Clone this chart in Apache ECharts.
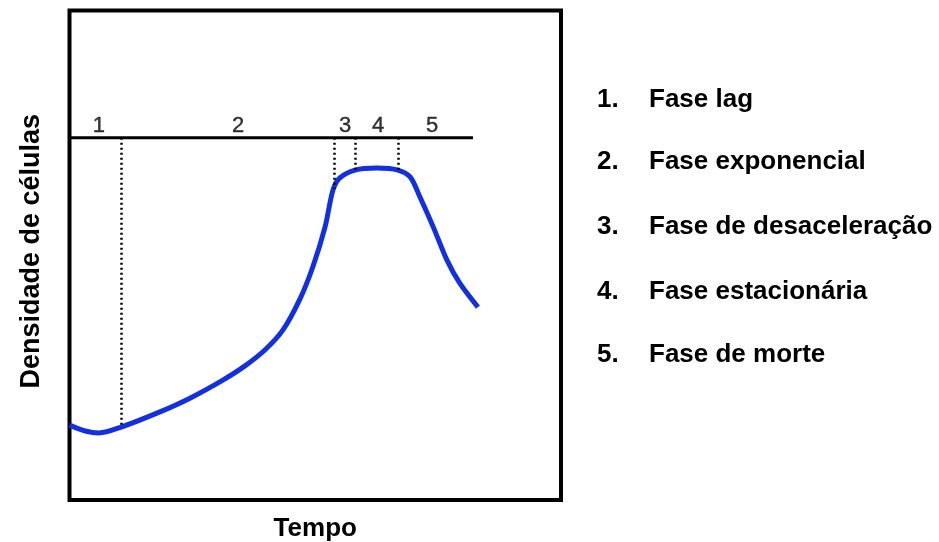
<!DOCTYPE html>
<html>
<head>
<meta charset="utf-8">
<script src="https://cdn.jsdelivr.net/npm/echarts@6/dist/echarts.min.js"></script>
<style>
  html, body { margin: 0; padding: 0; background: #fff; }
  #chart { width: 939px; height: 542px; }
</style>
</head>
<body>
<div id="chart"></div>
<script>
// curva de crescimento (tempo, densidade)
var tempo = [0, 3.2, 6.0, 10.5, 18.4, 24.5, 31.2, 35.7, 39.8, 43.4, 46.9, 49.5, 52.0, 53.6, 55.0, 58.1, 62.6, 66.8, 69.3, 71.3, 74.0, 76.8, 79.4, 83.1];
var densidade = [15.3, 14.1, 13.7, 14.9, 18.0, 20.8, 24.5, 27.4, 30.7, 34.7, 41.1, 47.6, 55.8, 63.3, 65.8, 67.4, 67.8, 67.4, 66.0, 61.9, 55.8, 49.0, 44.3, 39.4];

// limites das fases (linhas pontilhadas)
var limitesX = [10.5, 53.8, 58.1, 66.8];
var limitesY = [14.9, 63.6, 67.4, 67.4];
var linhaFasesY = 74.0;
var linhaFasesFim = 82.1;

// numeros das fases sobre a linha
var faseNum = ['1', '2', '3', '4', '5'];
var faseNumX = [6.0, 34.3, 56.1, 62.8, 73.8];
var faseNumY = 76.4;

// legenda a direita
var faseNomes = ['Fase lag', 'Fase exponencial', 'Fase de desaceleração', 'Fase estacionária', 'Fase de morte'];
var legendaY = [101, 163, 228, 293, 356];

var chart = echarts.init(document.getElementById('chart'));

var curva = tempo.map(function (t, i) { return [t, densidade[i]]; });

var pontilhadas = limitesX.map(function (x, i) {
  return [{ coord: [x, linhaFasesY] }, { coord: [x, limitesY[i]] }];
});

var rotulos = faseNum.map(function (n, i) {
  return { value: [faseNumX[i], faseNumY], label: { formatter: n } };
});

var graficos = [];
faseNomes.forEach(function (nome, i) {
  graficos.push({
    type: 'text', left: 597, top: legendaY[i] - 14,
    style: { text: (i + 1) + '.', font: 'bold 26px "Liberation Sans", Arial, sans-serif', fill: '#000' }
  });
  graficos.push({
    type: 'text', left: 649, top: legendaY[i] - 14,
    style: { text: nome, font: 'bold 26px "Liberation Sans", Arial, sans-serif', fill: '#000' }
  });
});

chart.setOption({
  animation: false,
  textStyle: { fontFamily: '"Liberation Sans", Arial, sans-serif' },
  grid: {
    show: true,
    left: 69.5, top: 10.5, width: 491.5, height: 489.5,
    outerBoundsMode: 'none',
    containLabel: false,
    borderColor: '#000', borderWidth: 4,
    backgroundColor: '#fff'
  },
  xAxis: {
    type: 'value', min: 0, max: 100,
    name: 'Tempo', nameLocation: 'middle', nameGap: 16,
    nameTextStyle: { fontSize: 26, fontWeight: 'bold', color: '#000' },
    axisLine: { show: false }, axisTick: { show: false },
    axisLabel: { show: false }, splitLine: { show: false }
  },
  yAxis: {
    type: 'value', min: 0, max: 100,
    name: 'Densidade de células', nameLocation: 'middle', nameGap: 24,
    nameTextStyle: { fontSize: 27, fontWeight: 'bold', color: '#000', padding: [0, 0, 0, 8] },
    axisLine: { show: false }, axisTick: { show: false },
    axisLabel: { show: false }, splitLine: { show: false }
  },
  graphic: graficos,
  series: [
    {
      type: 'line',
      data: [[0, linhaFasesY], [linhaFasesFim, linhaFasesY]],
      symbol: 'none',
      lineStyle: { color: '#000', width: 3 },
      markLine: {
        symbol: 'none',
        silent: true,
        label: { show: false },
        lineStyle: { color: '#000', width: 2.5, type: [2, 3] },
        data: pontilhadas
      }
    },
    {
      type: 'line',
      data: curva,
      smooth: 0.3,
      symbol: 'none',
      lineStyle: { color: '#1230e0', width: 5 }
    },
    {
      type: 'scatter',
      data: rotulos,
      symbolSize: 0,
      label: {
        show: true, position: 'inside',
        fontSize: 22, color: '#000',
        textBorderColor: '#000', textBorderWidth: 0.4
      }
    }
  ]
});
</script>
</body>
</html>
